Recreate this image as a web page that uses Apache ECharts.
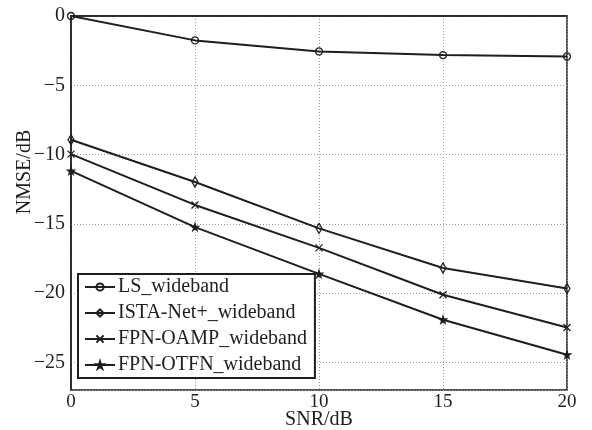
<!DOCTYPE html>
<html><head><meta charset="utf-8">
<script src="https://cdn.jsdelivr.net/npm/echarts@6/dist/echarts.min.js"></script>
<style>html,body{margin:0;padding:0;background:#fff}#c{width:592px;height:430px}</style>
</head><body><div id="c"></div>
<script>
const snr = [0, 5, 10, 15, 20];
const lsWideband = [0, -1.76, -2.56, -2.82, -2.92];
const istaWideband = [-8.93, -11.98, -15.33, -18.19, -19.68];
const oampWideband = [-9.97, -13.64, -16.74, -20.12, -22.49];
const otfnWideband = [-11.18, -15.24, -18.62, -21.93, -24.46];
const seriesNames = ['LS_wideband', 'ISTA-Net+_wideband', 'FPN-OAMP_wideband', 'FPN-OTFN_wideband'];

const FONT = '"Liberation Serif", "Times New Roman", serif';
const INK = '#1e1e1e';
const crossPath = 'path://M0,0L10,10M10,0L0,10';
const starPath = 'path://M50,0L61,35L98,35L68,57L79,91L50,70L21,91L32,57L2,35L39,35Z';
const symbols = [
  {symbol: 'circle', size: 7, fill: 'rgba(0,0,0,0)'},
  {symbol: 'diamond', size: [6, 10], fill: 'rgba(0,0,0,0)'},
  {symbol: crossPath, size: 7, fill: 'rgba(0,0,0,0)'},
  {symbol: starPath, size: 7, fill: INK}
];
const dataSets = [lsWideband, istaWideband, oampWideband, otfnWideband];
const minus = v => String(v).replace('-', '\u2212');

const chart = echarts.init(document.getElementById('c'), null, {renderer: 'canvas'});
chart.setOption({
  animation: false,
  backgroundColor: '#fff',
  textStyle: {fontFamily: FONT, color: INK},
  grid: {left: 71, right: 25, top: 16, bottom: 40, show: true, borderColor: INK, borderWidth: 1.5,
    containLabel: false, outerBoundsMode: 'none'},
  legend: {
    orient: 'vertical', left: 78, top: 274,
    padding: [3, 8, 3, 6], itemGap: 6, itemWidth: 30, itemHeight: 9,
    borderColor: INK, borderWidth: 2, backgroundColor: '#fff',
    textStyle: {fontFamily: FONT, fontSize: 20, lineHeight: 20, color: INK, padding: [0, 0, 0, -2]},
    data: seriesNames
  },
  xAxis: [{
    type: 'value', min: 0, max: 20, interval: 5,
    name: 'SNR/dB', nameLocation: 'middle', nameGap: 20, nameMoveOverlap: false,
    nameTextStyle: {fontFamily: FONT, fontSize: 20, color: INK, verticalAlign: 'top', lineHeight: 20},
    axisLine: {show: true, lineStyle: {color: INK, width: 1.5}},
    axisTick: {show: false},
    axisLabel: {fontFamily: FONT, fontSize: 19, color: INK, margin: 3},
    splitLine: {show: true, lineStyle: {color: '#9a9a9a', width: 1, type: [1, 2]}}
  }],
  yAxis: [{
    type: 'value', min: -27, max: 0, splitNumber: 5, minInterval: 5, maxInterval: 5,
    axisLine: {show: true, lineStyle: {color: INK, width: 1.5}},
    axisTick: {show: false},
    axisLabel: {fontFamily: FONT, fontSize: 20, color: INK, margin: 6, showMinLabel: false,
      formatter: v => minus(v)},
    splitLine: {show: true, lineStyle: {color: '#9a9a9a', width: 1, type: [1, 2]}}
  }],
  graphic: [{
    type: 'text', rotation: Math.PI / 2, x: 25, y: 172,
    style: {text: 'NMSE/dB', fontFamily: FONT, fontSize: 20, fill: INK, align: 'center', verticalAlign: 'middle'}
  }],
  series: seriesNames.map((name, i) => ({
    name: name, type: 'line',
    data: snr.map((x, j) => [x, dataSets[i][j]]),
    symbol: symbols[i].symbol, symbolSize: symbols[i].size, showAllSymbol: true,
    lineStyle: {color: INK, width: 2},
    itemStyle: {color: symbols[i].fill, borderColor: INK, borderWidth: 1.3},
    color: INK,
    z: 3
  }))
});
</script></body></html>
